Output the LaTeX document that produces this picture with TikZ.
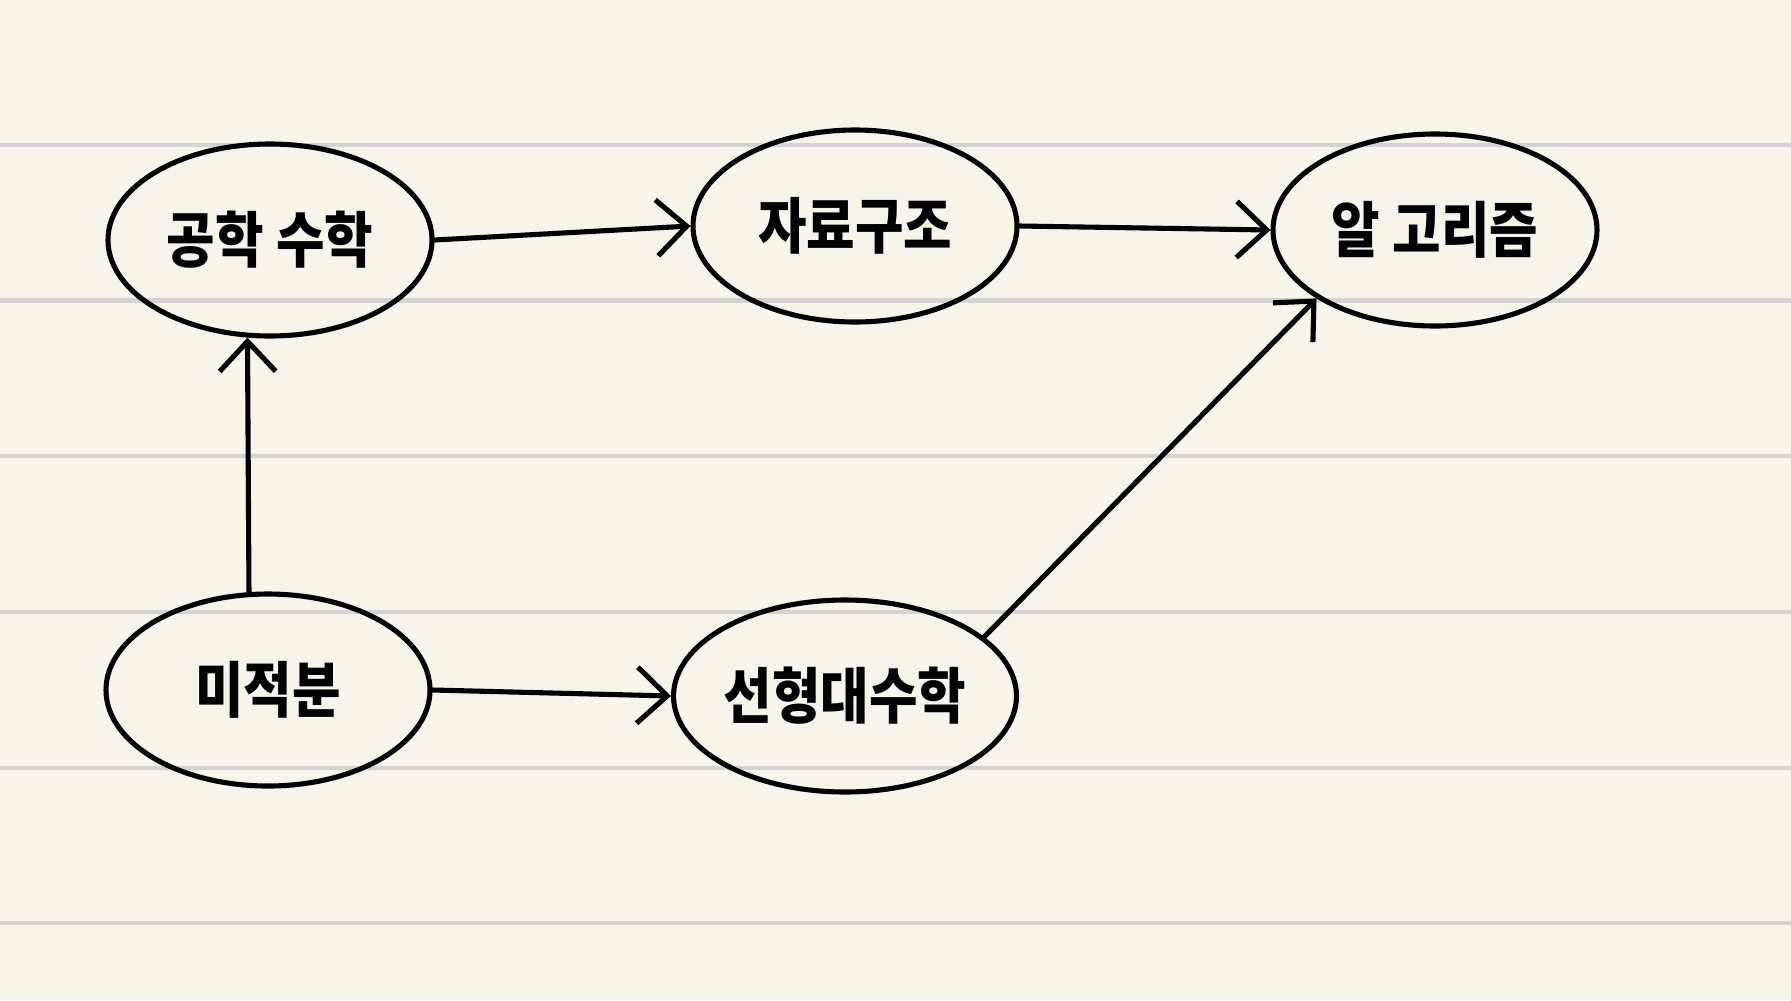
\documentclass[tikz,border=0pt]{standalone}
\usepackage{fontspec}
\newfontfamily\kr{Noto Sans CJK KR}
\usetikzlibrary{shapes.geometric,arrows.meta}
\definecolor{paper}{HTML}{F7F5E9}
\definecolor{rule}{HTML}{D3D3CF}
\tikzset{
  topic/.style={ellipse, draw=black, line width=1.45pt, minimum width=32.4mm, minimum height=19.2mm, inner sep=0pt, font=\kr\bfseries\fontsize{15}{15}\selectfont},
  arr/.style={line width=1.45pt, line cap=round, line join=round, -{Straight Barb[length=3mm,width=5.6mm,line width=1.45pt]}},
  ruleline/.style={rule, line width=1.2pt}
}
\begin{document}
\begin{tikzpicture}[x=0.1mm,y=-0.1mm]
\fill[paper] (0,0) rectangle (1791,1000);
\useasboundingbox (0,0) rectangle (1791,1000);
\foreach \yy in {145,300.5,456,612,768,923} \draw[ruleline] (0,\yy) -- (1791,\yy);
\node[topic] (eng) at (270,240) {\scalebox{1}[1.15]{공학 수학}};
\node[topic] (ds) at (855,226) {\scalebox{1}[1.15]{자료구조}};
\node[topic] (alg) at (1435,230) {\scalebox{1}[1.15]{알 고리즘}};
\node[topic] (calc) at (268,690) {\scalebox{1}[1.15]{미적분}};
\node[topic] (la) at (845,696) {\scalebox{1}[1.15]{선형대수학}};
\draw[arr] (calc.101) -- (eng.257);
\draw[arr] (eng.east) -- (ds.west);
\draw[arr] (ds.east) -- (alg.west);
\draw[arr] (calc.east) -- (la.west);
\draw[arr] (la.23) -- (alg.210);
\end{tikzpicture}
\end{document}
